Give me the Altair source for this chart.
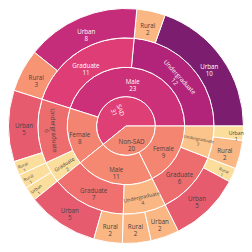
import math
import altair as alt
import pandas as pd

# ---- data (leaf level, in drawing order) ----
level1 = ["SAD"] * 8 + ["Non-SAD"] * 8
level2 = ["Male"] * 4 + ["Female"] * 4 + ["Male"] * 4 + ["Female"] * 4
level3 = ["Undergraduate", "Undergraduate", "Graduate", "Graduate",
          "Undergraduate", "Undergraduate", "Graduate", "Graduate",
          "Graduate", "Graduate", "Undergraduate", "Undergraduate",
          "Graduate", "Graduate", "Undergraduate", "Undergraduate"]
level4 = ["Urban", "Rural", "Urban", "Rural",
          "Urban", "Rural", "Rural", "Urban",
          "Urban", "Rural", "Rural", "Urban",
          "Urban", "Rural", "Rural", "Urban"]
counts = [10, 2, 8, 3, 5, 1, 1, 1, 5, 2, 2, 2, 5, 1, 2, 1]

palette = ["#fcde9c", "#faa476", "#f0746e", "#e34f6f", "#dc3977", "#b9257a", "#7c1d6f"]
color_min, color_max = 1, 10

# ---- label layout (style, not data) ----
orient = {
    "SAD": "radial",
    "SAD/Male/Undergraduate": "tangential",
    "SAD/Female/Undergraduate": "tangential",
    "SAD/Female/Graduate": "radial",
    "Non-SAD/Male/Undergraduate": "tangential",
    "Non-SAD/Female/Undergraduate": "radial",
    "SAD/Female/Undergraduate/Rural": "radial",
    "SAD/Female/Graduate/Rural": "radial",
    "SAD/Female/Graduate/Urban": "radial",
    "Non-SAD/Female/Graduate/Rural": "radial",
}
default_r = {1: 0.57, 2: 1.5, 3: 2.47, 4: 3.47}
r_override = {
    "SAD/Female": 1.6,
    "Non-SAD/Male": 1.54,
    "Non-SAD/Female/Undergraduate": 2.52,
    "SAD/Female/Undergraduate/Rural": 3.76,
    "SAD/Female/Graduate/Rural": 3.76,
    "SAD/Female/Graduate/Urban": 3.73,
    "Non-SAD/Female/Graduate/Rural": 3.66,
    "Non-SAD/Female/Undergraduate/Urban": 3.76,
}
size_b = {"SAD/Female/Graduate", "Non-SAD/Male/Undergraduate",
          "Non-SAD/Female/Undergraduate/Urban"}
size_c = {"Non-SAD/Female/Undergraduate", "SAD/Female/Undergraduate/Rural",
          "SAD/Female/Graduate/Rural", "SAD/Female/Graduate/Urban",
          "Non-SAD/Female/Graduate/Rural"}

levels = [level1, level2, level3, level4]
total = sum(counts)
n = len(counts)
rows = []
for depth in range(1, 5):
    keys = ["/".join(levels[d][k] for d in range(depth)) for k in range(n)]
    order = []
    for k in keys:
        if k not in order:
            order.append(k)
    for nid in order:
        idx = [k for k in range(n) if keys[k] == nid]
        vals = [counts[k] for k in idx]
        start = sum(counts[:idx[0]])
        v = sum(vals)
        cv = sum(x * x for x in vals) / v
        mid = start + v / 2
        phi = mid / total * 360.0
        o = orient.get(nid, "horizontal")
        if o == "radial":
            rot = ((-phi + 90) % 180) - 90
        elif o == "tangential":
            rot = ((180 - phi) % 180) - 90
        else:
            rot = 0.0
        fs = "c" if nid in size_c else ("b" if nid in size_b else "a")
        name = nid.split("/")[-1]
        rows.append(dict(id=nid, name=name, value=v, start=start, end=start + v,
                         r0=depth - 1, r1=depth, cv=cv, mid=mid,
                         lr=r_override.get(nid, default_r[depth]),
                         rot=rot % 360, fs=fs,
                         label=f"{name}\n{v}"))
df = pd.DataFrame(rows)

theta_scale = alt.Scale(domain=[0, total], range=[math.pi / 2, math.pi / 2 - 2 * math.pi])
radius_scale = alt.Scale(type="linear", domain=[0, 4], range=[0, 117.5])
color_scale = alt.Scale(domain=[color_min + k * (color_max - color_min) / 6 for k in range(7)],
                        range=palette, interpolate="rgb")

base = alt.Chart(df)

arcs = base.mark_arc(stroke="white", strokeWidth=1).encode(
    theta=alt.Theta("start:Q", scale=theta_scale),
    theta2="end:Q",
    radius=alt.Radius("r0:Q", scale=radius_scale),
    radius2="r1:Q",
    color=alt.Color("cv:Q", scale=color_scale, legend=None),
)


def text_layer(cls, size, lh):
    return base.transform_filter(alt.datum.fs == cls).mark_text(
        font="Open Sans", fontSize=size, lineBreak="\n", lineHeight=lh,
        align="center", baseline="middle",
    ).encode(
        theta=alt.Theta("mid:Q", scale=theta_scale),
        radius=alt.Radius("lr:Q", scale=radius_scale),
        text="label:N",
        angle=alt.Angle("rot:Q", scale=None),
        color=alt.condition("datum.cv > 6", alt.value("white"), alt.value("#444")),
    )


chart = alt.layer(
    arcs,
    text_layer("a", 6.2, 7),
    text_layer("b", 5.2, 6),
    text_layer("c", 4.3, 5),
).properties(
    width=236, height=236, padding=0, autosize="none",
    background="white",
).configure_view(stroke=None)

chart.save("out.html", embed_options={"renderer": "svg", "actions": False})
